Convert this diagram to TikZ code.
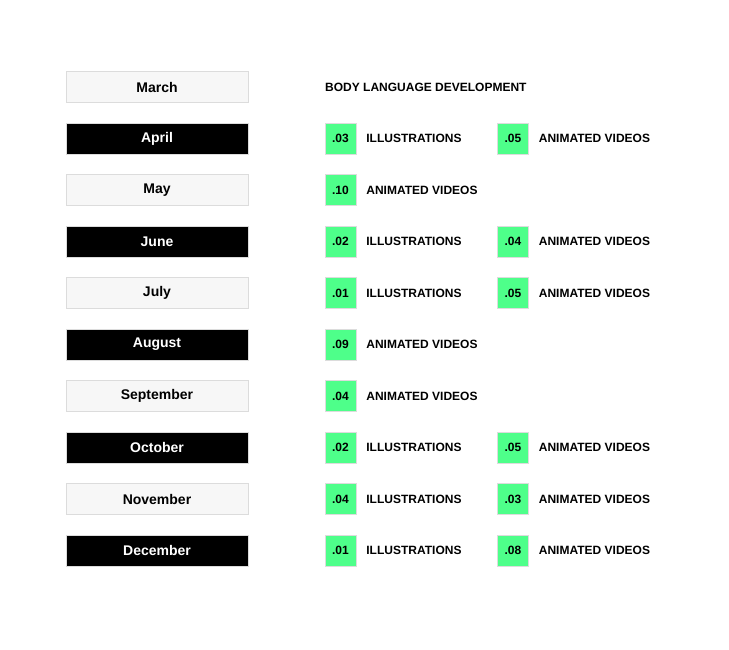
\documentclass[tikz,border=0pt]{standalone}
\usepackage{fontspec}
\setmainfont{Liberation Sans}
\definecolor{tlGreen}{HTML}{4EFF8A}
\definecolor{tlLight}{HTML}{F7F7F7}
\definecolor{tlEdge}{HTML}{DCDCDC}
\usetikzlibrary{positioning}

\tikzset{
  month/.style={draw=tlEdge, minimum width=182pt, minimum height=31pt, inner sep=0pt,
    font=\fontsize{14}{16}\selectfont\bfseries},
  monthLight/.style={month, fill=tlLight, text=black},
  monthDark/.style={month, fill=black, text=white},
  score/.style={draw=tlEdge, fill=tlGreen, minimum size=31pt, inner sep=0pt,
    font=\fontsize{12}{14}\selectfont\bfseries},
  kind/.style={font=\fontsize{12}{14}\selectfont\bfseries, anchor=west, inner sep=0pt},
}

\begin{document}
\begin{tikzpicture}[x=1pt, y=-1pt]
  \useasboundingbox (0,0) rectangle (729,650);
  % months
  \foreach \i/\mname/\mstyle in {0/March/monthLight, 1/April/monthDark, 2/May/monthLight,
      3/June/monthDark, 4/July/monthLight, 5/August/monthDark, 6/September/monthLight,
      7/October/monthDark, 8/November/monthLight, 9/December/monthDark}
    \node[\mstyle] (m\i) at (157, 87+51.5*\i) {\mname};
  % heading
  \node[kind] (head) at (325,87) {BODY LANGUAGE DEVELOPMENT};
  % scores
  \foreach \i/\c/\val/\what in {1/1/.03/ILLUSTRATIONS, 1/2/.05/ANIMATED VIDEOS,
      2/1/.10/ANIMATED VIDEOS,
      3/1/.02/ILLUSTRATIONS, 3/2/.04/ANIMATED VIDEOS,
      4/1/.01/ILLUSTRATIONS, 4/2/.05/ANIMATED VIDEOS,
      5/1/.09/ANIMATED VIDEOS,
      6/1/.04/ANIMATED VIDEOS,
      7/1/.02/ILLUSTRATIONS, 7/2/.05/ANIMATED VIDEOS,
      8/1/.04/ILLUSTRATIONS, 8/2/.03/ANIMATED VIDEOS,
      9/1/.01/ILLUSTRATIONS, 9/2/.08/ANIMATED VIDEOS} {
    \node[score] (s\i-\c) at (168+172.5*\c, 87+51.5*\i) {\val};
    \node[kind, right=10pt of s\i-\c] (k\i-\c) {\what};
  }
\end{tikzpicture}
\end{document}
